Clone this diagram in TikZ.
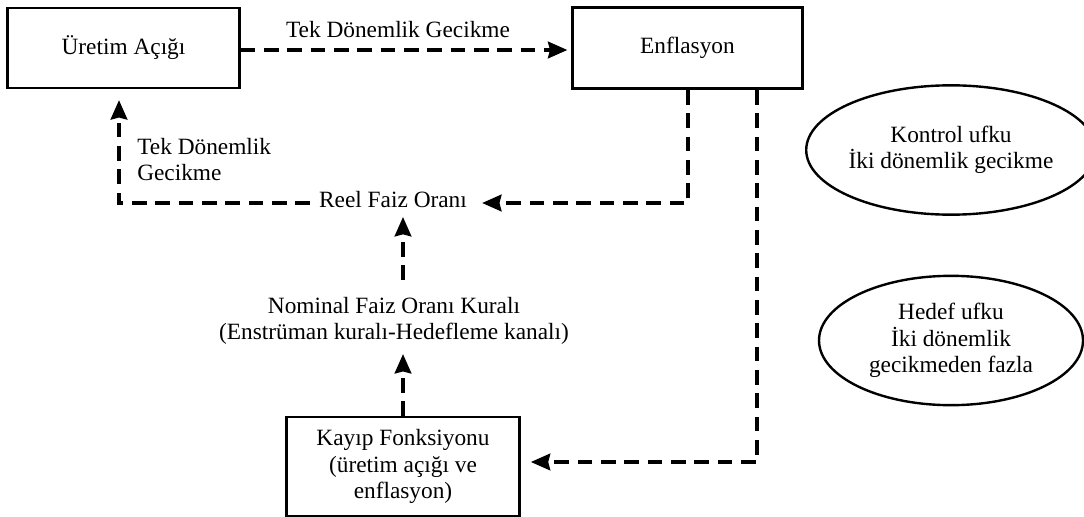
\documentclass[tikz,border=0pt]{standalone}
\usepackage{fontspec}
\setmainfont{Liberation Serif}
\usetikzlibrary{arrows.meta,shapes.geometric,calc}

\tikzset{
  txt/.style={inner sep=0pt, font=\fontsize{17.5}{19.8}\selectfont},
  boxnode/.style={txt, draw, line width=1.8pt, align=center},
  oval/.style={txt, draw, ellipse, line width=1.8pt, align=center, inner sep=0pt},
  conn/.style={line width=2.4pt, dash pattern=on 11pt off 6.5pt,
    -{Stealth[length=14.5pt, width=12.5pt, inset=1.5pt]}},
}

\begin{document}
\begin{tikzpicture}[x=0.75pt, y=-0.75pt]
  \useasboundingbox (0,0) rectangle (1084,517);

  % boxes
  \node[boxnode, minimum width=174pt, minimum height=60pt] (ur) at (123.5,48) {Üretim Açığı};
  \node[boxnode, minimum width=172.5pt, minimum height=61pt] (enf) at (687.5,48) {Enflasyon};
  \node[boxnode, minimum width=175pt, minimum height=74pt] (kay) at (403,466.5)
       {Kayıp Fonksiyonu\\(üretim açığı ve\\enflasyon)};

  % free labels
  \node[txt, anchor=base] (topl) at (398,38) {Tek Dönemlik Gecikme};
  \node[txt, anchor=north west, align=left] (leftl) at (137,138) {Tek Dönemlik\\Gecikme};
  \node[txt, anchor=base] (reel) at (393,207) {Reel Faiz Oranı};
  \node[txt, anchor=north, align=center] (nom) at (394,297)
       {Nominal Faiz Oranı Kuralı\\(Enstrüman kuralı-Hedefleme kanalı)};

  % horizons
  \node[oval, minimum width=198pt, minimum height=97pt] (kon) at (951,150)
       {Kontrol ufku\\İki dönemlik gecikme};
  \node[oval, minimum width=198pt, minimum height=97pt] (hed) at (951,340.5)
       {Hedef ufku\\İki dönemlik\\gecikmeden fazla};

  % connectors
  \draw[conn] ($(ur.east)+(0,2)$) -- ($(enf.west)+(-4,2)$);
  \draw[conn] ($(enf.south)+(0.5,0)$) |- ($(reel.base east)+(15,-4)$);
  \draw[conn] ($(reel.base west)+(-9,-4)$) -| ($(ur.south)+(-4.5,11)$);
  \draw[conn] ($(kay.north |- nom.north)+(0,-17)$) -- ($(kay.north |- reel.base)+(0,10)$);
  \draw[conn] (kay.north) -- ($(kay.north |- nom.south)+(0,9)$);
  \draw[conn] ($(enf.south)+(69.5,0)$) |- ($(kay.east)+(10,-4.5)$);
\end{tikzpicture}
\end{document}
